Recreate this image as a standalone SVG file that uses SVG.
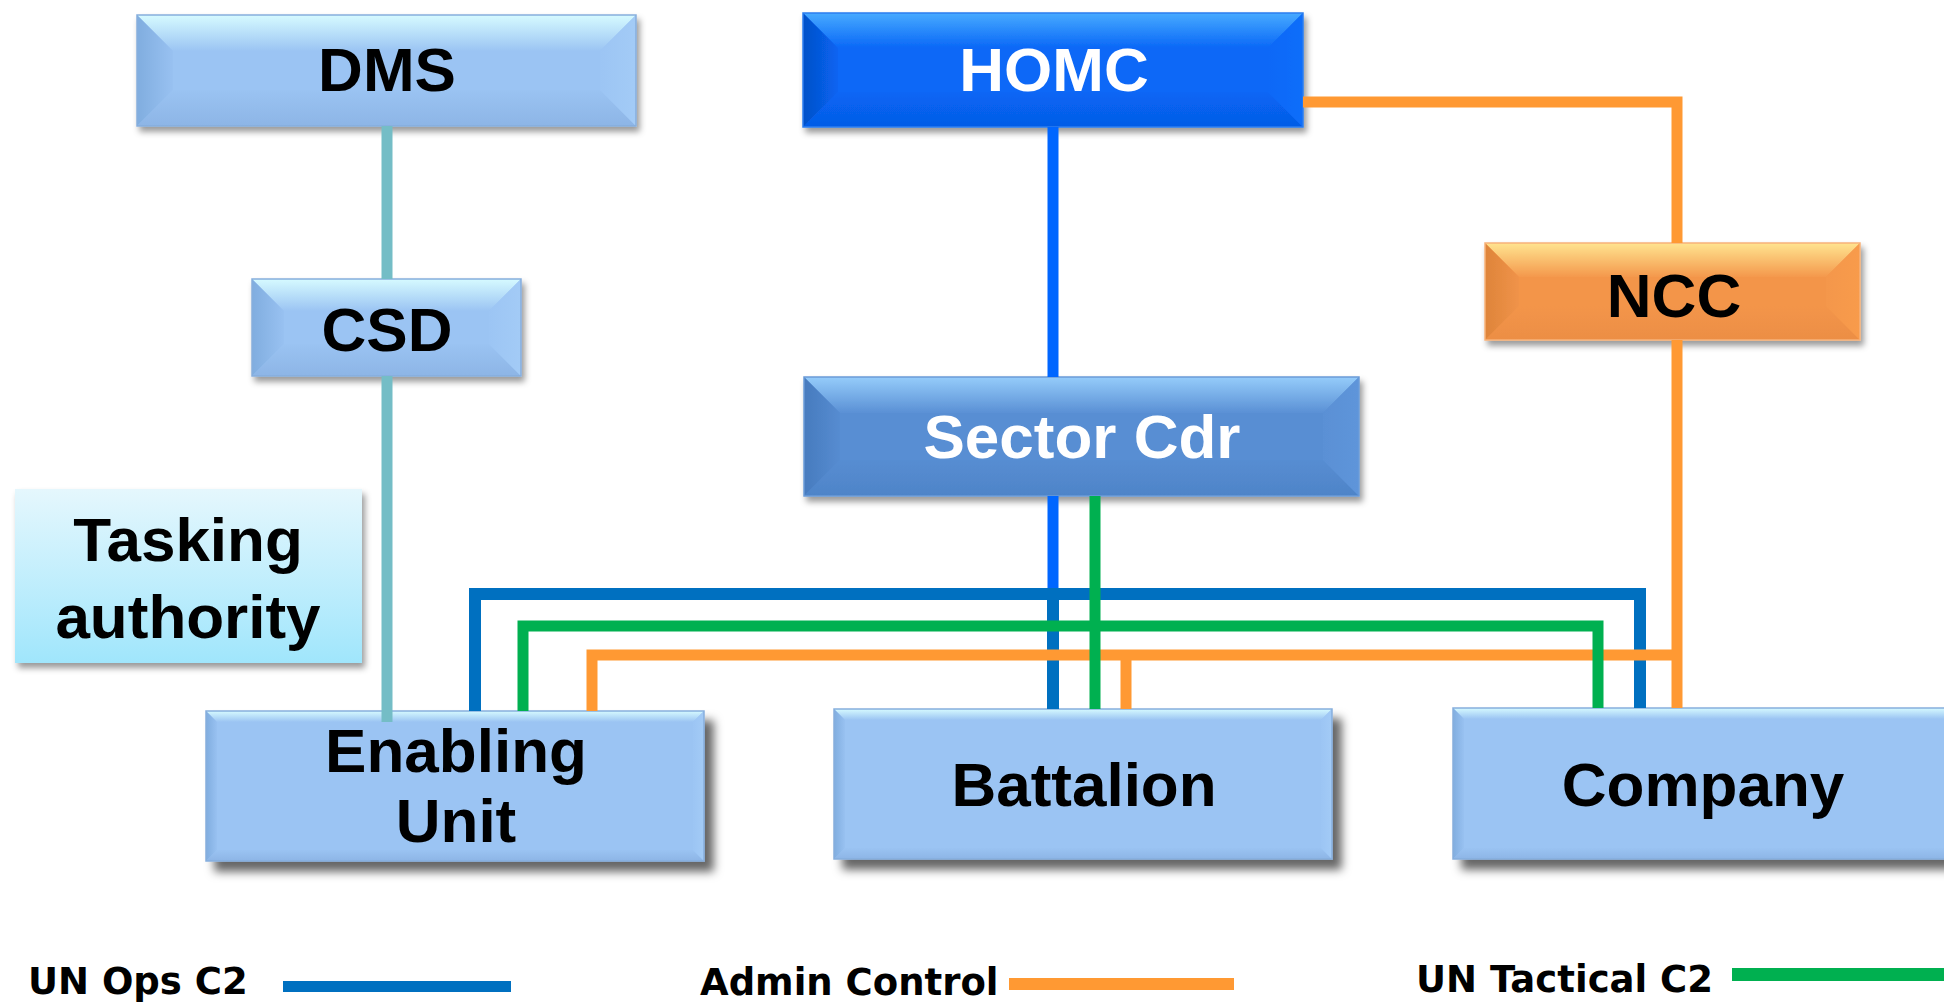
<svg xmlns="http://www.w3.org/2000/svg" width="1944" height="1003" viewBox="0 0 1944 1003">
  <defs>
    <!-- light blue bevel -->
    <linearGradient id="lbTop" x1="0" y1="0" x2="0" y2="1"><stop offset="0" stop-color="#D6FAFF"/><stop offset="1" stop-color="#9BC4F3"/></linearGradient>
    <linearGradient id="lbLeft" x1="0" y1="0" x2="1" y2="0"><stop offset="0" stop-color="#80ADDF"/><stop offset="1" stop-color="#98C1F1"/></linearGradient>
    <linearGradient id="lbRight" x1="0" y1="0" x2="1" y2="0"><stop offset="0" stop-color="#9CC5F4"/><stop offset="1" stop-color="#A3CBF6"/></linearGradient>
    <linearGradient id="lbBot" x1="0" y1="0" x2="0" y2="1"><stop offset="0" stop-color="#9AC3F2"/><stop offset="1" stop-color="#8DB5E6"/></linearGradient>
    <!-- strong blue bevel -->
    <linearGradient id="sbTop" x1="0" y1="0" x2="0" y2="1"><stop offset="0" stop-color="#47AAFF"/><stop offset="1" stop-color="#0A68F7"/></linearGradient>
    <linearGradient id="sbLeft" x1="0" y1="0" x2="1" y2="0"><stop offset="0" stop-color="#0450C8"/><stop offset="1" stop-color="#0864F2"/></linearGradient>
    <linearGradient id="sbRight" x1="0" y1="0" x2="1" y2="0"><stop offset="0" stop-color="#0A68F7"/><stop offset="1" stop-color="#106EFA"/></linearGradient>
    <linearGradient id="sbBot" x1="0" y1="0" x2="0" y2="1"><stop offset="0" stop-color="#0866F5"/><stop offset="1" stop-color="#055CE6"/></linearGradient>
    <!-- steel blue bevel -->
    <linearGradient id="stTop" x1="0" y1="0" x2="0" y2="1"><stop offset="0" stop-color="#95CCFA"/><stop offset="1" stop-color="#5A90D5"/></linearGradient>
    <linearGradient id="stLeft" x1="0" y1="0" x2="1" y2="0"><stop offset="0" stop-color="#477BBE"/><stop offset="1" stop-color="#568CD1"/></linearGradient>
    <linearGradient id="stRight" x1="0" y1="0" x2="1" y2="0"><stop offset="0" stop-color="#5A90D5"/><stop offset="1" stop-color="#5E95DA"/></linearGradient>
    <linearGradient id="stBot" x1="0" y1="0" x2="0" y2="1"><stop offset="0" stop-color="#578DD2"/><stop offset="1" stop-color="#4E84C8"/></linearGradient>
    <!-- orange bevel -->
    <linearGradient id="orTop" x1="0" y1="0" x2="0" y2="1"><stop offset="0" stop-color="#FFE490"/><stop offset="1" stop-color="#F4984C"/></linearGradient>
    <linearGradient id="orLeft" x1="0" y1="0" x2="1" y2="0"><stop offset="0" stop-color="#DE843A"/><stop offset="1" stop-color="#F09349"/></linearGradient>
    <linearGradient id="orRight" x1="0" y1="0" x2="1" y2="0"><stop offset="0" stop-color="#F4974B"/><stop offset="1" stop-color="#F89B4C"/></linearGradient>
    <linearGradient id="orBot" x1="0" y1="0" x2="0" y2="1"><stop offset="0" stop-color="#F3954A"/><stop offset="1" stop-color="#EC8E44"/></linearGradient>
    <!-- pale cyan panel -->
    <linearGradient id="paleFill" x1="0" y1="0" x2="0" y2="1"><stop offset="0" stop-color="#E5F7FD"/><stop offset="1" stop-color="#A0E6FC"/></linearGradient>

    <filter id="shadowSm" x="-10%" y="-20%" width="130%" height="150%">
      <feDropShadow dx="3" dy="5" stdDeviation="3" flood-color="#000" flood-opacity="0.4"/>
    </filter>
    <filter id="shadowLg" x="-10%" y="-20%" width="130%" height="160%">
      <feDropShadow dx="9" dy="10" stdDeviation="5" flood-color="#000" flood-opacity="0.6"/>
    </filter>

    <style>
      .lb .face{fill:#9BC4F3}
      .lb .t{fill:url(#lbTop)} .lb .l{fill:url(#lbLeft)} .lb .r{fill:url(#lbRight)} .lb .b{fill:url(#lbBot)}
      .lb .edge{fill:none;stroke:#86AEDD;stroke-width:1.5}
      .sb .face{fill:#0A68F7}
      .sb .t{fill:url(#sbTop)} .sb .l{fill:url(#sbLeft)} .sb .r{fill:url(#sbRight)} .sb .b{fill:url(#sbBot)}
      .sb .edge{fill:none;stroke:#2A7DF0;stroke-width:1.5}
      .st .face{fill:#588ED3}
      .st .t{fill:url(#stTop)} .st .l{fill:url(#stLeft)} .st .r{fill:url(#stRight)} .st .b{fill:url(#stBot)}
      .st .edge{fill:none;stroke:#6A9BD8;stroke-width:1.5}
      .or .face{fill:#F3954A}
      .or .t{fill:url(#orTop)} .or .l{fill:url(#orLeft)} .or .r{fill:url(#orRight)} .or .b{fill:url(#orBot)}
      .or .edge{fill:none;stroke:#F7B27A;stroke-width:1.5}
      .up{filter:url(#shadowSm)}
      .low{filter:url(#shadowLg)}
      .label{font-family:"Liberation Sans",Arial,sans-serif;font-weight:bold;font-size:62px;text-anchor:middle}
      .dark{fill:#000}
      .light{fill:#fff}
      .wire{fill:none;stroke-width:11;stroke-linecap:butt;stroke-linejoin:miter}
      .teal{stroke:#74BDC6}
      .bright{stroke:#0066FF}
      .ops{stroke:#0070C0;stroke-width:12}
      .admin{stroke:#FF9933}
      .tac{stroke:#00B050}
      .key{font-family:"DejaVu Sans",Verdana,sans-serif;font-weight:bold;font-size:37px;fill:#000}
    </style>
  </defs>

  <rect width="1944" height="1003" fill="#fff"/>

  <!-- upper row -->
  <g id="dms" class="lb">
    <g class="up">
      <rect class="face" x="137" y="15" width="499" height="111"/>
      <polygon class="t" points="137,15 636,15 600,51 173,51"/>
      <polygon class="b" points="137,126 636,126 600,90 173,90"/>
      <polygon class="l" points="137,15 173,51 173,90 137,126"/>
      <polygon class="r" points="636,15 600,51 600,90 636,126"/>
      <rect class="edge" x="137" y="15" width="499" height="111"/>
    </g>
    <text class="label dark" x="387" y="91">DMS</text>
  </g>

  <g id="homc" class="sb">
    <g class="up">
      <rect class="face" x="803" y="13" width="500" height="114"/>
      <polygon class="t" points="803,13 1303,13 1268,48 838,48"/>
      <polygon class="b" points="803,127 1303,127 1268,92 838,92"/>
      <polygon class="l" points="803,13 838,48 838,92 803,127"/>
      <polygon class="r" points="1303,13 1268,48 1268,92 1303,127"/>
      <rect class="edge" x="803" y="13" width="500" height="114"/>
    </g>
    <text class="label light" x="1054" y="91">HOMC</text>
  </g>

  <g id="csd" class="lb">
    <g class="up">
      <rect class="face" x="252" y="279" width="269" height="97"/>
      <polygon class="t" points="252,279 521,279 489,311 284,311"/>
      <polygon class="b" points="252,376 521,376 489,344 284,344"/>
      <polygon class="l" points="252,279 284,311 284,344 252,376"/>
      <polygon class="r" points="521,279 489,311 489,344 521,376"/>
      <rect class="edge" x="252" y="279" width="269" height="97"/>
    </g>
    <text class="label dark" x="387" y="351">CSD</text>
  </g>

  <g id="ncc" class="or">
    <g class="up">
      <rect class="face" x="1485" y="243" width="375" height="97"/>
      <polygon class="t" points="1485,243 1860,243 1826,277 1519,277"/>
      <polygon class="b" points="1485,340 1860,340 1826,306 1519,306"/>
      <polygon class="l" points="1485,243 1519,277 1519,306 1485,340"/>
      <polygon class="r" points="1860,243 1826,277 1826,306 1860,340"/>
      <rect class="edge" x="1485" y="243" width="375" height="97"/>
    </g>
    <text class="label dark" x="1674" y="317">NCC</text>
  </g>

  <g id="sector-cdr" class="st">
    <g class="up">
      <rect class="face" x="804" y="377" width="555" height="119"/>
      <polygon class="t" points="804,377 1359,377 1323,413 840,413"/>
      <polygon class="b" points="804,496 1359,496 1323,460 840,460"/>
      <polygon class="l" points="804,377 840,413 840,460 804,496"/>
      <polygon class="r" points="1359,377 1323,413 1323,460 1359,496"/>
      <rect class="edge" x="804" y="377" width="555" height="119"/>
    </g>
    <text class="label light" x="1082" y="458">Sector Cdr</text>
  </g>

  <g id="tasking-authority">
    <rect class="up" x="15" y="489" width="347" height="174" fill="url(#paleFill)"/>
    <text class="label dark" x="188" y="561">Tasking</text>
    <text class="label dark" x="188" y="638">authority</text>
  </g>

  <!-- lower row -->
  <g id="enabling-unit" class="lb">
    <g class="low">
      <rect class="face" x="206" y="711" width="498" height="150"/>
      <polygon class="t" points="206,711 704,711 693,722 217,722"/>
      <polygon class="b" points="206,861 704,861 693,850 217,850"/>
      <polygon class="l" points="206,711 217,722 217,850 206,861"/>
      <polygon class="r" points="704,711 693,722 693,850 704,861"/>
      <rect class="edge" x="206" y="711" width="498" height="150"/>
    </g>
    <text class="label dark" x="456" y="772">Enabling</text>
    <text class="label dark" x="456" y="842">Unit</text>
  </g>

  <g id="battalion" class="lb">
    <g class="low">
      <rect class="face" x="834" y="709" width="498" height="150"/>
      <polygon class="t" points="834,709 1332,709 1321,720 845,720"/>
      <polygon class="b" points="834,859 1332,859 1321,848 845,848"/>
      <polygon class="l" points="834,709 845,720 845,848 834,859"/>
      <polygon class="r" points="1332,709 1321,720 1321,848 1332,859"/>
      <rect class="edge" x="834" y="709" width="498" height="150"/>
    </g>
    <text class="label dark" x="1084" y="806">Battalion</text>
  </g>

  <g id="company" class="lb">
    <g class="low">
      <rect class="face" x="1453" y="708" width="520" height="151"/>
      <polygon class="t" points="1453,708 1973,708 1962,719 1464,719"/>
      <polygon class="b" points="1453,859 1973,859 1962,848 1464,848"/>
      <polygon class="l" points="1453,708 1464,719 1464,848 1453,859"/>
      <rect class="edge" x="1453" y="708" width="520" height="151"/>
    </g>
    <text class="label dark" x="1703" y="806">Company</text>
  </g>

  <!-- connectors -->
  <g id="connectors">
    <path class="wire teal" d="M387,126 V279 M387,376 V722"/>
    <path class="wire bright" d="M1053,127 V377 M1053,496 V594"/>
    <path class="wire ops" d="M475,711 V594 H1640 V708 M1053,594 V709"/>
    <path class="wire admin" d="M1303,102 H1677 V243 M1677,340 V708 M592,711 V655 H1677 M1126,655 V709"/>
    <path class="wire tac" d="M1095,496 V709 M523,711 V626 H1598 V708"/>
  </g>

  <!-- key -->
  <g id="legend">
    <text class="key" x="28" y="994">UN Ops C2</text>
    <rect x="283" y="981" width="228" height="11" fill="#0070C0"/>
    <text class="key" x="700" y="995">Admin Control</text>
    <rect x="1009" y="978" width="225" height="12" fill="#FF9933"/>
    <text class="key" x="1416" y="992">UN Tactical C2</text>
    <rect x="1732" y="968" width="212" height="13" fill="#00B050"/>
  </g>
</svg>
